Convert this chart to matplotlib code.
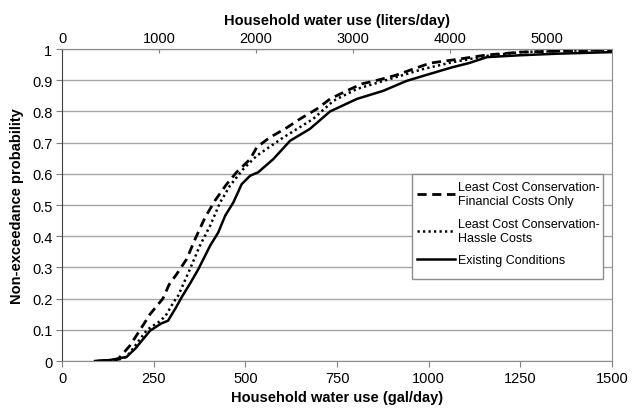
import matplotlib
matplotlib.use('Agg')
import matplotlib.pyplot as plt
from matplotlib.patches import Rectangle

plt.rcParams['font.family'] = ['Liberation Sans', 'DejaVu Sans']

# DATA

gal_fin = [100, 150, 158, 185, 213, 240, 275, 292, 313, 340, 363, 390, 417, 449, 476, 513,
           531, 567, 608, 649, 695, 731, 776, 817, 867, 913, 958, 1004, 1066, 1159, 1250,
           1350, 1500]
p_fin = [0, 0.003, 0.013, 0.049, 0.10, 0.15, 0.2, 0.245, 0.279, 0.327, 0.391, 0.46, 0.514,
         0.567, 0.605, 0.647, 0.685, 0.717, 0.744, 0.776, 0.808, 0.84, 0.866, 0.888, 0.902,
         0.917, 0.936, 0.955, 0.965, 0.981, 0.99, 0.993, 0.997]

gal_hassle = [95, 150, 176, 200, 232, 270, 285, 305, 317, 349, 376, 404, 431, 458, 494, 531,
              604, 685, 740, 804, 894, 985, 1066, 1159, 1250, 1400, 1500]
p_hassle = [0, 0.003, 0.013, 0.05, 0.1, 0.13, 0.15, 0.19, 0.21, 0.295, 0.37, 0.434, 0.508,
            0.562, 0.615, 0.658, 0.717, 0.776, 0.834, 0.872, 0.904, 0.936, 0.958, 0.978,
            0.99, 0.995, 0.997]

gal_exist = [90, 130, 176, 200, 240, 270, 289, 310, 326, 350, 372, 404, 426, 445, 467, 490,
             513, 535, 576, 622, 676, 731, 804, 876, 940, 1031, 1066, 1110, 1159, 1250, 1350,
             1500]
p_exist = [0, 0.003, 0.013, 0.04, 0.097, 0.12, 0.129, 0.17, 0.204, 0.25, 0.295, 0.37, 0.412,
           0.466, 0.508, 0.567, 0.594, 0.605, 0.647, 0.706, 0.744, 0.8, 0.84, 0.866, 0.898,
           0.93, 0.942, 0.955, 0.974, 0.98, 0.985, 0.99]

L_PER_GAL = 3.785
liter_ticks = [0, 1000, 2000, 3000, 4000, 5000]


### = = = = = = = = = = = = = = = = = = = = = = = = = = = = = = = = = = = = = =

# PLOT

fig = plt.figure(figsize=(6.33, 4.14), dpi=100)
ax = fig.add_axes([0.098, 0.1256, 0.869, 0.7536])

ax.plot(gal_fin, p_fin, color='black', lw=2.0, ls=(0, (3.3, 2.0)),
        label='Least Cost Conservation-\nFinancial Costs Only')
ax.plot(gal_hassle, p_hassle, color='black', lw=1.8, ls=(0, (0.9, 1.3)),
        label='Least Cost Conservation-\nHassle Costs')
ax.plot(gal_exist, p_exist, color='black', lw=1.8, ls='-',
        label='Existing Conditions')

ax.set_xlim(0, 1500)
ax.set_ylim(0, 1)
ax.set_xticks([0, 250, 500, 750, 1000, 1250, 1500])
ax.set_yticks([i / 10 for i in range(11)])
ax.set_yticklabels(['0'] + [f'{i / 10:g}' for i in range(1, 10)] + ['1'])
ax.yaxis.grid(True, color='#a6a6a6', lw=1)
ax.set_axisbelow(True)

ax.tick_params(axis='x', direction='out', length=4, color='#808080', labelsize=10.5, pad=3)
ax.tick_params(axis='y', direction='out', length=4, color='#808080', labelsize=10.5, pad=3)
for s in ['bottom', 'right', 'top']:
    ax.spines[s].set_color('#8c8c8c')
ax.spines['left'].set_color('#404040')

ax.set_xlabel('Household water use (gal/day)', fontweight='bold', fontsize=10.5, labelpad=4)
ax.set_ylabel('Non-exceedance probability', fontweight='bold', fontsize=10.5, labelpad=6)

top = ax.secondary_xaxis('top', functions=(lambda g: g * L_PER_GAL, lambda l: l / L_PER_GAL))
top.set_xticks(liter_ticks)
top.tick_params(direction='in', length=3, color='#808080', labelsize=10.5, pad=3)
top.spines['top'].set_color('#8c8c8c')
top.set_xlabel('Household water use (liters/day)', fontweight='bold', fontsize=10.5, labelpad=5)

# legend box drawn by hand (it has extra room at the bottom)
ax.add_patch(Rectangle((0.636, 0.263), 0.347, 0.337, transform=ax.transAxes,
                       facecolor='white', edgecolor='#8c8c8c', lw=1, zorder=4))
leg = ax.legend(loc='upper left', bbox_to_anchor=(0.646, 0.576), fontsize=9,
                frameon=False, handlelength=3.0, handletextpad=0.25, labelspacing=0.85,
                borderpad=0, borderaxespad=0)
leg.set_zorder(5)

fig.savefig('out.png', dpi=100)
